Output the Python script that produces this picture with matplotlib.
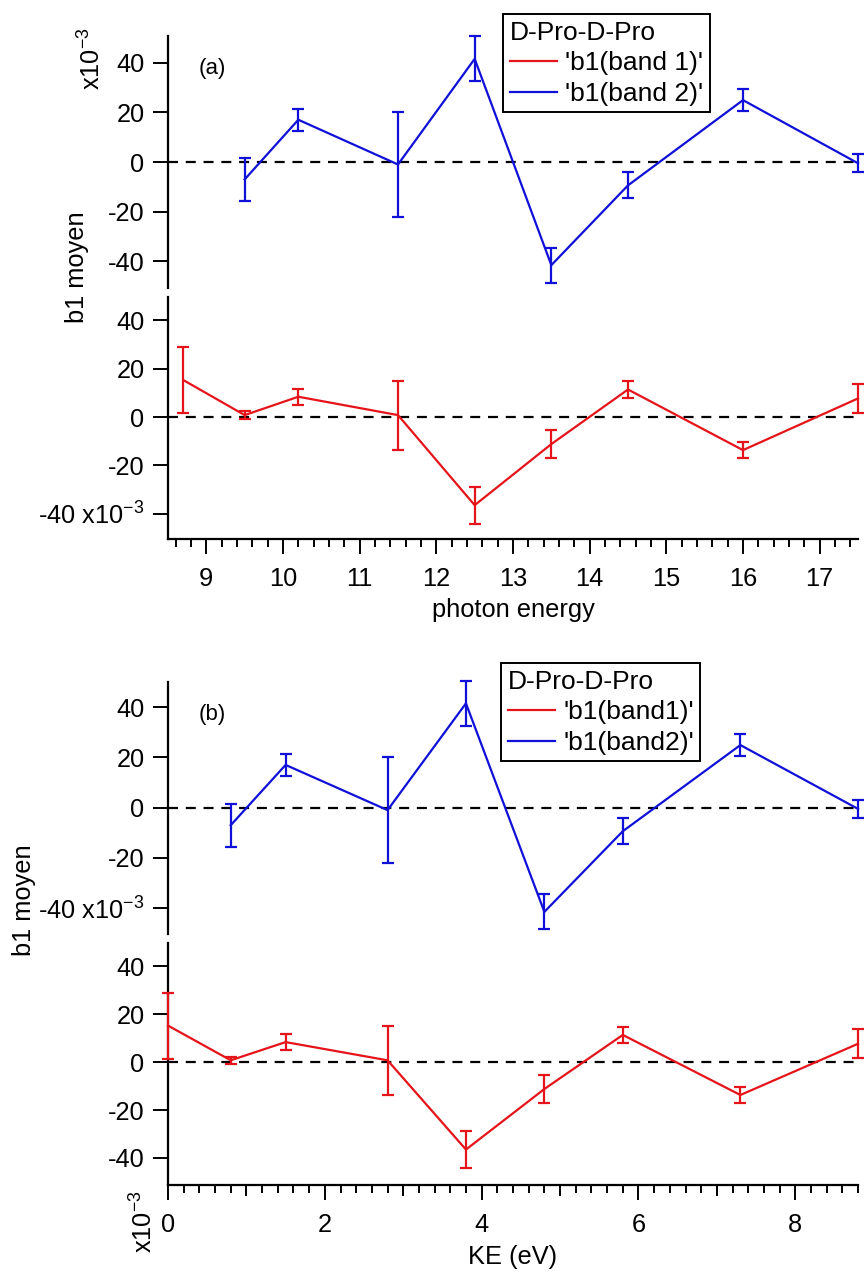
import matplotlib
matplotlib.use("Agg")
import matplotlib.pyplot as plt
from matplotlib.ticker import MultipleLocator

plt.rcParams['font.family'] = ['Liberation Sans', 'DejaVu Sans']
plt.rcParams['mathtext.fontset'] = 'custom'
plt.rcParams['mathtext.rm'] = 'Liberation Sans'
plt.rcParams['axes.unicode_minus'] = False

# data (b1 values in units of 1e-3)
photon_energy = [8.7, 9.5, 10.2, 11.5, 12.5, 13.5, 14.5, 16.0, 17.5]
ke = [0.0, 0.8, 1.5, 2.8, 3.8, 4.8, 5.8, 7.3, 8.8]
band1 = [15.3, 0.8, 8.4, 0.8, -36.5, -11.2, 11.4, -13.7, 7.7]
band1_err = [13.8, 1.5, 3.3, 14.3, 7.7, 5.7, 3.4, 3.3, 6.1]
# band 2 has no point at the first energy
band2 = [-7.0, 17.0, -1.0, 41.5, -41.5, -9.4, 24.9, -0.5]
band2_err = [8.5, 4.5, 21.0, 9.0, 7.0, 5.2, 4.4, 3.6]
yticks = [-40, -20, 0, 20, 40]

RED = '#e5141a'
BLUE = '#1010d8'
FS = 18.3
LFS = 19

fig = plt.figure(figsize=(8.64, 12.75), dpi=100)
W, H = 864, 1275


def box(x0, y0, x1, y1):
    return [x0 / W, 1 - y1 / H, (x1 - x0) / W, (y1 - y0) / H]


def style_y(ax, labels, ylim):
    ax.set_ylim(*ylim)
    ax.set_yticks(yticks)
    ax.set_yticklabels(labels)
    ax.spines['top'].set_visible(False)
    ax.spines['right'].set_visible(False)
    ax.spines['left'].set_linewidth(1.6)
    ax.spines['bottom'].set_linewidth(1.6)
    ax.tick_params(axis='y', direction='out', length=11, width=1.4,
                   pad=6, labelsize=FS)
    ax.axhline(0, color='black', lw=1.6, ls=(0, (4.5, 3.5)), zorder=1)


def draw(ax, x, y, err, color):
    eb = ax.errorbar(x, y, yerr=err, color=color, lw=1.6, elinewidth=1.6,
                     capsize=4.5, capthick=1.6, zorder=3)
    for art in eb.lines[1] + eb.lines[2]:
        art.set_clip_on(False)
    eb.lines[0].set_clip_on(False)
    return eb


def panel(top_y, xdata, xlim, x_major, x_label, tag, legend_xy, names,
          upper_labels, lower_labels, ylims, xlabelpad):
    ax_up = fig.add_axes(box(168, top_y, 858, top_y + 252))
    ax_lo = fig.add_axes(box(168, top_y + 261, 858, top_y + 503))
    for a in (ax_up, ax_lo):
        a.set_xlim(*xlim)
        a.patch.set_visible(False)
    style_y(ax_up, upper_labels, ylims[0])
    style_y(ax_lo, lower_labels, ylims[1])
    ax_up.spines['bottom'].set_visible(False)
    ax_up.tick_params(axis='x', bottom=False, labelbottom=False)

    e2 = draw(ax_up, xdata[1:], band2, band2_err, BLUE)
    e1 = draw(ax_lo, xdata, band1, band1_err, RED)

    ax_lo.xaxis.set_major_locator(MultipleLocator(x_major))
    ax_lo.xaxis.set_minor_locator(MultipleLocator(0.2))
    ax_lo.tick_params(axis='x', which='major', direction='out', length=11,
                      width=1.4, pad=9, labelsize=FS)
    ax_lo.tick_params(axis='x', which='minor', direction='out', length=5.5,
                      width=1.4)
    ax_lo.set_xlabel(x_label, fontsize=FS, labelpad=xlabelpad)

    ax_up.text(0.045, 0.87, tag, transform=ax_up.transAxes, fontsize=16,
               ha='left', va='center')

    leg = fig.legend([e1.lines[0], e2.lines[0]], names, title='D-Pro-D-Pro',
                     loc='upper left', bbox_to_anchor=legend_xy,
                     bbox_transform=fig.transFigure, fontsize=LFS,
                     title_fontsize=LFS, alignment='left', fancybox=False,
                     framealpha=1, edgecolor='black', borderpad=0.25,
                     labelspacing=0.25, handlelength=1.8, handletextpad=0.3,
                     borderaxespad=0)
    leg.get_frame().set_linewidth(1.4)
    return ax_up, ax_lo


# panel (a)
a_up, a_lo = panel(36, photon_energy, (8.5, 17.5), 1, 'photon energy', '(a)',
                   (503 / W, 1 - 14 / H), ["'b1(band 1)'", "'b1(band 2)'"],
                   ['-40', '-20', '0', '20', '40'],
                   ['-40 x10$^{-3}$', '-20', '0', '20', '40'],
                   [(-50.7, 50.7), (-50.5, 49.7)], 5)
fig.text(92 / W, 1 - 59 / H, 'x10$^{-3}$', rotation=90, fontsize=FS,
         ha='center', va='center')
fig.text(77 / W, 1 - 267 / H, 'b1 moyen', rotation=90, fontsize=FS,
         ha='center', va='center')

# panel (b)
b_up, b_lo = panel(682, ke, (0, 8.8), 2, 'KE (eV)', '(b)',
                   (501 / W, 1 - 663 / H), ["'b1(band1)'", "'b1(band2)'"],
                   ['-40 x10$^{-3}$', '-20', '0', '20', '40'],
                   ['-40', '-20', '0', '20', '40'],
                   [(-50.3, 50.0), (-51.3, 49.8)], 6)
# medium ticks at odd KE values
sec = b_lo.secondary_xaxis('bottom')
sec.set_xticks([1, 3, 5, 7])
sec.set_xticklabels([])
sec.tick_params(axis='x', direction='out', length=8, width=1.4)
sec.spines['bottom'].set_visible(False)
fig.text(144 / W, 1 - 1222 / H, 'x10$^{-3}$', rotation=90, fontsize=FS,
         ha='center', va='center')
fig.text(24 / W, 1 - 900 / H, 'b1 moyen', rotation=90, fontsize=FS,
         ha='center', va='center')

fig.savefig('out.png', dpi=100)
